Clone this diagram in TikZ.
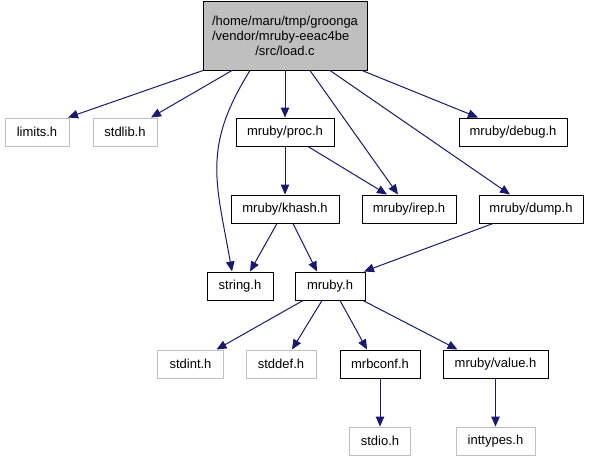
\documentclass[tikz,border=0pt]{standalone}
\usepackage{fontspec}
\setmainfont{Liberation Sans}
\usetikzlibrary{arrows.meta}
\definecolor{edgeblue}{HTML}{191970}
\definecolor{lightbd}{HTML}{BFBFBF}
\definecolor{mainfill}{HTML}{BFBFBF}
\begin{document}
\begin{tikzpicture}[x=1pt,y=-1pt,
  every node/.style={font=\fontsize{13}{15}\selectfont, inner sep=0pt, minimum height=28pt},
  dark/.style={draw=black, line width=1pt, fill=white},
  light/.style={draw=lightbd, line width=1pt, fill=white},
  edge/.style={draw=edgeblue, line width=1pt, -{Triangle[length=10pt,width=8.5pt]}}]
\useasboundingbox (0,0) rectangle (589,461);
% nodes
\node[draw=black, line width=1pt, fill=mainfill, minimum width=164pt, minimum height=69pt, align=center] (load) at (285,35.5)
  {/home/maru/tmp/groonga\\\rlap{/vendor/mruby-eeac4be}\phantom{/home/maru/tmp/groonga}\\/src/load.c};
\node[light, minimum width=64pt] (limits) at (37,132) {limits.h};
\node[light, minimum width=64pt] (stdlib) at (125,132) {stdlib.h};
\node[dark, minimum width=98pt] (proc) at (285,132) {mruby/proc.h};
\node[dark, minimum width=108pt] (debug) at (513,132) {mruby/debug.h};
\node[dark, minimum width=108pt] (khash) at (285,209) {mruby/khash.h};
\node[dark, minimum width=94pt] (irep) at (409,209) {mruby/irep.h};
\node[dark, minimum width=104pt] (dump) at (531,209) {mruby/dump.h};
\node[dark, minimum width=66pt] (string) at (240,286) {string.h};
\node[dark, minimum width=70pt] (mruby) at (330,286) {mruby.h};
\node[light, minimum width=66pt] (stdint) at (190.5,364) {stdint.h};
\node[light, minimum width=70pt] (stddef) at (281,364) {stddef.h};
\node[dark, minimum width=80pt] (mrbconf) at (380,364) {mrbconf.h};
\node[dark, minimum width=105pt] (value) at (495.5,364) {mruby/value.h};
\node[light, minimum width=61pt] (stdio) at (380,441) {stdio.h};
\node[light, minimum width=79pt] (inttypes) at (495.5,441) {inttypes.h};
% edges
\draw[edge] ([xshift=-82pt]load.south) -- ([xshift=31pt]limits.north);
\draw[edge] ([xshift=-53pt]load.south) -- ([xshift=26pt]stdlib.north);
\draw[edge] ([xshift=-35pt]load.south) to[out=-122,in=100,looseness=1.15] ([xshift=-8pt]string.north);
\draw[edge] (load.south) -- (proc.north);
\draw[edge] ([xshift=25pt]load.south) -- ([xshift=-11pt]irep.north);
\draw[edge] ([xshift=45pt]load.south) -- ([xshift=-21pt]dump.north);
\draw[edge] ([xshift=77pt]load.south) -- ([xshift=-35pt]debug.north);
\draw[edge] (proc.south) -- (khash.north);
\draw[edge] ([xshift=23pt]proc.south) -- ([xshift=-22pt]irep.north);
\draw[edge] ([xshift=-8pt]khash.south) -- ([xshift=10pt]string.north);
\draw[edge] ([xshift=8pt]khash.south) -- ([xshift=-13pt]mruby.north);
\draw[edge] ([xshift=-38pt]dump.south) -- ([xshift=34pt]mruby.north);
\draw[edge] ([xshift=-27pt]mruby.south) -- ([xshift=26pt]stdint.north);
\draw[edge] ([xshift=-8pt]mruby.south) -- ([xshift=11pt]stddef.north);
\draw[edge] ([xshift=10pt]mruby.south) -- ([xshift=-13pt]mrbconf.north);
\draw[edge] ([xshift=33pt]mruby.south) -- ([xshift=-38pt]value.north);
\draw[edge] (mrbconf.south) -- (stdio.north);
\draw[edge] (value.south) -- (inttypes.north);
\end{tikzpicture}
\end{document}
